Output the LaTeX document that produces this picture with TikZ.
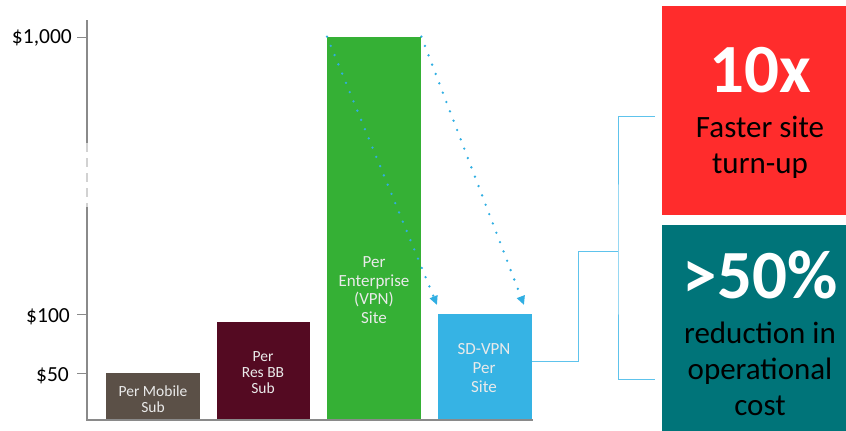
\documentclass[tikz,border=0pt]{standalone}
\usepackage{fontspec}
\setmainfont{Carlito}
\usetikzlibrary{arrows.meta}

\definecolor{mobilebar}{HTML}{5B5047}
\definecolor{resbar}{HTML}{540A22}
\definecolor{entbar}{HTML}{35B035}
\definecolor{sdbar}{HTML}{36B3E4}
\definecolor{boxred}{HTML}{FF2C2C}
\definecolor{boxteal}{HTML}{007479}
\definecolor{linkblue}{HTML}{5EC3EC}
\definecolor{dotblue}{HTML}{30AEE2}
\definecolor{axisgray}{HTML}{8A8A8A}
\definecolor{labelwhite}{HTML}{EAEAEA}

\tikzset{
  bar/.style={fill=#1, draw=none, anchor=south west, inner sep=0pt},
  barlabel/.style={text=labelwhite, align=center, inner sep=0pt},
  smalltxt/.style={font=\fontsize{15.5}{16}\selectfont},
  midtxt/.style={font=\fontsize{17}{18.6}\selectfont},
  axisline/.style={draw=axisgray, line width=1.6pt},
  axisbreak/.style={draw=gray!35, line width=1.6pt, dash pattern=on 9pt off 6pt},
  tick/.style={draw=axisgray, line width=0.8pt},
  ticklabel/.style={anchor=base east, inner sep=0pt, font=\fontsize{21.5}{24}\selectfont},
  dotarrow/.style={draw=dotblue, line width=2.6pt, line cap=round,
    dash pattern=on 0pt off 10pt, -{Triangle[length=9pt,width=8pt,line cap=butt]}},
  bracket/.style={draw=linkblue, line width=1pt},
  statbox/.style={anchor=north west, inner sep=0pt, minimum width=184pt},
  bignum/.style={anchor=base, inner sep=0pt, text=white, font=\fontsize{69}{69}\selectfont\bfseries},
  stattxt/.style={anchor=base, inner sep=0pt, text=black, font=\fontsize{31}{36}\selectfont},
}

\begin{document}
\begin{tikzpicture}[x=1pt, y=-1pt]
  \useasboundingbox (0,0) rectangle (846,431);

  % bars
  \node[bar=mobilebar, minimum width=94pt, minimum height=46pt] (mob) at (106,419) {};
  \node[bar=resbar, minimum width=93pt, minimum height=97pt] (res) at (217,419) {};
  \node[bar=entbar, minimum width=94pt, minimum height=382pt] (ent) at (327,419) {};
  \node[bar=sdbar, minimum width=94pt, minimum height=105pt] (sd) at (438,419) {};

  % bar captions
  \node[barlabel, smalltxt] (moblbl) at (153,399) {Per Mobile\\Sub};
  \node[barlabel, smalltxt] (reslbl) at (263,373) {Per\\Res BB\\Sub};
  \node[barlabel, midtxt] (entlbl) at (374,290) {Per\\Enterprise\\(VPN)\\Site};
  \node[barlabel, midtxt] (sdlbl) at (484,368) {SD-VPN\\Per\\Site};

  % axes with a break in the value axis
  \draw[axisline] (87,20) -- (87,143);
  \draw[axisbreak] (87,143) -- (87,207);
  \draw[axisline] (87,207) -- (87,420) -- (533,420);

  % ticks and values
  \draw[tick] (77,37) -- (87,37);
  \draw[tick] (77,314) -- (87,314);
  \draw[tick] (77,373) -- (87,373);
  \node[ticklabel] (t1000) at (72,43) {\$1,000};
  \node[ticklabel] (t100) at (70,322) {\$100};
  \node[ticklabel] (t50) at (69,381) {\$50};

  % cost drop from the enterprise site to the SD-VPN site
  \coordinate (dropL) at (437,305);
  \coordinate (dropR) at (524,305);
  \draw[dotarrow] (ent.north west) -- (dropL);
  \draw[dotarrow] (ent.north east) -- (dropR);

  % benefit boxes
  \node[statbox, fill=boxred, minimum height=209pt] (fast) at (662,6) {};
  \node[statbox, fill=boxteal, minimum height=206pt] (save) at (662,225) {};
  \node[bignum] (tenx) at (760,92) {10x};
  \node[stattxt] (fast1) at (760,137) {Faster site};
  \node[stattxt] (fast2) at (760,173) {turn-up};
  \node[bignum] (half) at (760,298) {>50\%};
  \node[stattxt] (save1) at (760,343) {reduction in};
  \node[stattxt] (save2) at (760,379) {operational};
  \node[stattxt] (save3) at (760,415) {cost};

  % bracket joining the SD-VPN bar to both boxes
  \coordinate (join) at (618,251);
  \coordinate (topend) at (655,116);
  \coordinate (botend) at (655,379);
  \draw[bracket] ([yshift=4.5pt]sd.east) -- ++(46,0) |- (join);
  \draw[bracket] (topend) -| (join) |- (botend);
\end{tikzpicture}
\end{document}
